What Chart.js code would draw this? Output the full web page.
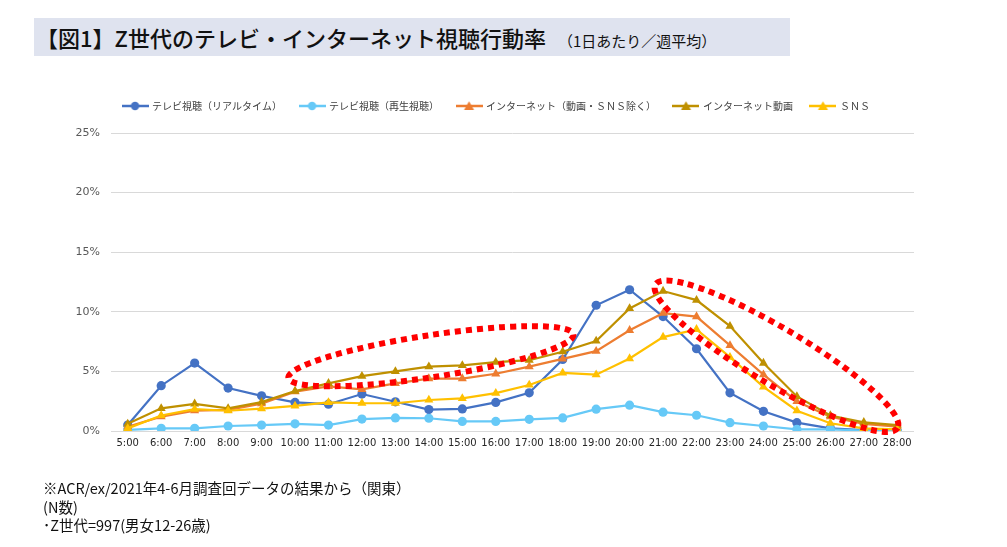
<!DOCTYPE html>
<html>
<head>
<meta charset="utf-8">
<script src="https://cdn.jsdelivr.net/npm/chart.js@4.4.1/dist/chart.umd.min.js"></script>
<style>
  html, body { margin: 0; padding: 0; background: #ffffff; }
  #wrap { position: relative; width: 1007px; height: 547px; overflow: hidden; background: #fff; }
  #c { position: absolute; left: 0; top: 0; }
  #title { position: absolute; left: 34px; top: 18px; width: 756px; height: 38px; background: #dfe3ef;
           font-family: "Noto Sans CJK JP", sans-serif; color: #111; line-height: 38px; white-space: nowrap; }
  #title .main { font-size: 22px; font-weight: 500; margin-left: 2px; }
  #title .sub { font-size: 15px; margin-left: 12px; }
  #note { position: absolute; left: 43px; top: 479px; font-family: "Noto Sans CJK JP", sans-serif;
          font-size: 14.5px; line-height: 18.5px; color: #111; white-space: nowrap; }
</style>
</head>
<body>
<div id="wrap">
  <canvas id="c" width="1007" height="547"></canvas>
  <div id="title"><span class="main">【図1】Z世代のテレビ・インターネット視聴行動率</span><span class="sub">（1日あたり／週平均）</span></div>
  <div id="note">※ACR/ex/2021年4-6月調査回データの結果から（関東）<br>(N数)<br>･Z世代=997(男女12-26歳)</div>
</div>
<script>
// ---- data (percent) ----
const categories = ['5:00','6:00','7:00','8:00','9:00','10:00','11:00','12:00','13:00','14:00','15:00','16:00',
  '17:00','18:00','19:00','20:00','21:00','22:00','23:00','24:00','25:00','26:00','27:00','28:00'];
const seriesNames = ['テレビ視聴（リアルタイム）','テレビ視聴（再生視聴）','インターネット（動画・ＳＮＳ除く）','インターネット動画','ＳＮＳ'];
const tvRealtime = [0.5,3.8,5.7,3.6,2.95,2.4,2.25,3.1,2.45,1.8,1.85,2.4,3.2,6.0,10.55,11.85,9.6,6.9,3.2,1.65,0.7,0.22,0.08,0.0];
const tvPlayback = [0.1,0.22,0.22,0.42,0.5,0.6,0.5,1.0,1.1,1.07,0.8,0.8,0.98,1.1,1.83,2.17,1.58,1.32,0.7,0.42,0.14,0.14,0.03,0.0];
const netOther   = [0.36,1.2,1.7,1.77,2.3,3.3,3.75,3.5,4.0,4.4,4.4,4.8,5.4,6.05,6.7,8.45,9.88,9.6,7.18,4.73,2.48,1.2,0.59,0.36];
const netVideo   = [0.6,1.9,2.28,1.9,2.42,3.35,4.0,4.6,5.0,5.4,5.5,5.77,5.94,6.65,7.55,10.28,11.74,10.98,8.8,5.7,2.9,1.3,0.73,0.5];
const sns        = [0.22,1.3,1.83,1.7,1.88,2.1,2.4,2.33,2.33,2.6,2.73,3.18,3.86,4.87,4.73,6.08,7.88,8.53,6.2,3.7,1.7,0.65,0.22,0.14];
const yTicks = [0,5,10,15,20,25];

const colors = ['#4472C4','#66C9F7','#ED7D31','#BF9000','#FFC000'];
const styles = ['circle','circle','triangle','triangle','triangle'];
const values = [tvRealtime, tvPlayback, netOther, netVideo, sns];

// red dotted highlight ellipses, in data coordinates (category index, percent)
const highlights = [
  {from:[4.8,4.45], to:[13.32,8.1], half:21},
  {from:[15.77,12.3], to:[23.01,0.25], half:28}
];

function legendIcon(color, style){
  const cv = document.createElement('canvas');
  cv.width = 27; cv.height = 12;
  const g = cv.getContext('2d');
  g.strokeStyle = color; g.lineWidth = 2.5;
  g.beginPath(); g.moveTo(0,6); g.lineTo(27,6); g.stroke();
  g.fillStyle = color;
  g.beginPath();
  if (style === 'circle') { g.arc(13.5,6,4.2,0,Math.PI*2); }
  else { g.moveTo(13.5,1.2); g.lineTo(18.5,10); g.lineTo(8.5,10); g.closePath(); }
  g.fill();
  return cv;
}
const icons = colors.map((c,i)=>legendIcon(c, styles[i]));

const datasets = values.map((v,i)=>({
  label: seriesNames[i],
  data: v,
  borderColor: colors[i],
  backgroundColor: colors[i],
  pointBackgroundColor: colors[i],
  pointBorderColor: colors[i],
  pointStyle: styles[i],
  pointRadius: styles[i]==='circle' ? 4.6 : 5.2,
  pointBorderWidth: 0,
  borderWidth: 2.2,
  tension: 0,
  order: 4 - i
}));

const highlightPlugin = {
  id: 'highlight',
  afterDatasetsDraw(chart){
    const {ctx, scales:{x,y}} = chart;
    ctx.save();
    ctx.strokeStyle = '#FF0000';
    ctx.lineWidth = 6;
    ctx.setLineDash([6,5]);
    highlights.forEach(h=>{
      const x1 = x.getPixelForValue(h.from[0]), y1 = y.getPixelForValue(h.from[1]);
      const x2 = x.getPixelForValue(h.to[0]), y2 = y.getPixelForValue(h.to[1]);
      const cx = (x1+x2)/2, cy = (y1+y2)/2;
      const rx = Math.hypot(x2-x1, y2-y1)/2;
      const ang = Math.atan2(y2-y1, x2-x1);
      ctx.beginPath();
      ctx.ellipse(cx, cy, rx, h.half, ang, 0, Math.PI*2);
      ctx.stroke();
    });
    ctx.restore();
  }
};

const LEGEND_SHIFT = 4.5;
const legendSpacer = {
  id: 'legendSpacer',
  beforeInit(chart){
    const lg = chart.legend;
    const origFit = lg.fit;
    lg.fit = function(){ origFit.call(lg); this.height += 12; };
    const origDraw = lg.draw;
    lg.draw = function(){
      const ctx = chart.ctx;
      ctx.save(); ctx.translate(LEGEND_SHIFT, 0); origDraw.call(lg); ctx.restore();
    };
  }
};

new Chart(document.getElementById('c'), {
  type: 'line',
  data: { labels: categories, datasets },
  plugins: [legendSpacer, highlightPlugin],
  options: {
    responsive: false,
    animation: false,
    layout: { padding: { left: 70, right: 93, top: 83, bottom: 96 } },
    plugins: {
      tooltip: { enabled: false },
      legend: {
        position: 'top',
        labels: {
          font: { family: '"Noto Sans CJK JP", sans-serif', size: 10 },
          color: '#404040',
          usePointStyle: true,
          pointStyleWidth: 24,
          boxHeight: 10,
          padding: 18,
          sort: (a,b)=>a.datasetIndex-b.datasetIndex,
          generateLabels(chart){
            const items = Chart.defaults.plugins.legend.labels.generateLabels(chart);
            items.forEach(it=>{ it.pointStyle = icons[it.datasetIndex]; });
            return items;
          }
        }
      }
    },
    scales: {
      x: {
        offset: true,
        grid: { display: false, drawTicks: false },
        border: { display: false },
        ticks: { autoSkip: false, maxRotation: 0, minRotation: 0, padding: 6,
                 color: '#262626', font: { family: '"DejaVu Sans", sans-serif', size: 10 } },
        afterFit(s){ s.height = 20; }
      },
      y: {
        min: 0, max: 25,
        afterBuildTicks(s){ s.ticks = yTicks.map(v=>({value:v})); },
        grid: { color: '#d9d9d9', lineWidth: 1, drawTicks: false },
        border: { display: false },
        ticks: { padding: 11, color: '#595959', font: { family: '"DejaVu Sans", sans-serif', size: 11 },
                 callback: v => v + '%' },
        afterFit(s){ s.width = 41; }
      }
    }
  }
});
</script>
</body>
</html>
